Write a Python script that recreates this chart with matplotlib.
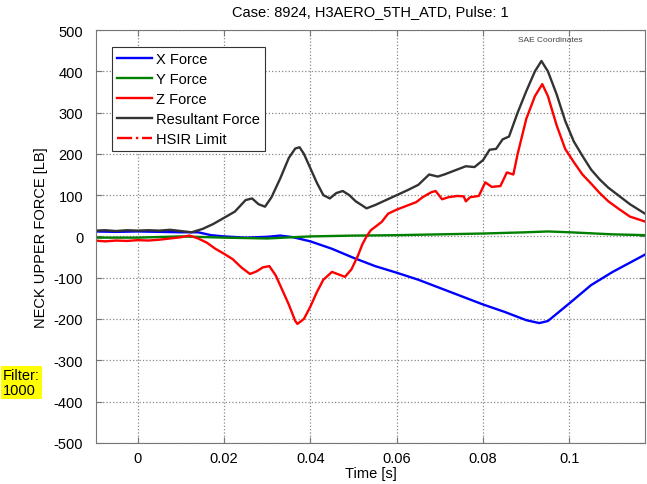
import matplotlib
matplotlib.use("Agg")
import matplotlib.pyplot as plt

plt.rcParams['font.family'] = ['Liberation Sans', 'DejaVu Sans']
plt.rcParams['axes.unicode_minus'] = False

# values
t_res = [-0.01, -0.0075, -0.005, -0.0025, 0.0, 0.0025, 0.005, 0.0075, 0.01, 0.0125,
         0.015, 0.0175, 0.02, 0.0225, 0.025, 0.0265, 0.028, 0.0295, 0.031, 0.033,
         0.035, 0.0365, 0.0375, 0.0385, 0.04, 0.0415, 0.043, 0.0445, 0.046, 0.0475,
         0.049, 0.0505, 0.052, 0.053, 0.055, 0.0575, 0.06, 0.0625, 0.065, 0.0675,
         0.0695, 0.071, 0.0735, 0.076, 0.078, 0.08, 0.0815, 0.083, 0.0845, 0.086,
         0.088, 0.09, 0.092, 0.0935, 0.095, 0.097, 0.099, 0.101, 0.103, 0.105,
         0.107, 0.109, 0.1115, 0.114, 0.1175]
f_res = [14, 15, 13, 15, 14, 15, 14, 16, 13, 10,
         18, 30, 45, 60, 88, 92, 78, 72, 95, 140,
         190, 213, 216, 200, 165, 130, 100, 92, 105, 110,
         100, 85, 75, 68, 76, 88, 100, 112, 125, 150,
         145, 150, 160, 170, 168, 185, 210, 212, 235, 242,
         300, 352, 400, 425, 400, 345, 280, 230, 195, 162,
         138, 118, 98, 78, 55]

t_z = [-0.01, -0.0075, -0.005, -0.0025, 0.0, 0.0025, 0.005, 0.0075, 0.01, 0.012,
       0.014, 0.016, 0.018, 0.02, 0.022, 0.024, 0.026, 0.0275, 0.029, 0.0305,
       0.032, 0.0335, 0.035, 0.0365, 0.037, 0.0385, 0.04, 0.0415, 0.043, 0.045,
       0.0465, 0.048, 0.0495, 0.051, 0.052, 0.053, 0.054, 0.055, 0.0565, 0.058,
       0.06, 0.0625, 0.0645, 0.066, 0.068, 0.069, 0.0705, 0.072, 0.074, 0.0755,
       0.076, 0.077, 0.079, 0.0805, 0.082, 0.084, 0.0855, 0.087, 0.088, 0.09,
       0.092, 0.0937, 0.095, 0.097, 0.099, 0.101, 0.103, 0.105, 0.107, 0.109,
       0.1115, 0.114, 0.1175]
f_z = [-10, -12, -10, -11, -9, -10, -8, -5, -2, 2,
       -5, -15, -30, -42, -55, -75, -91, -85, -75, -72,
       -95, -130, -165, -205, -212, -200, -170, -135, -105, -86,
       -92, -98, -80, -47, -20, 0, 15, 23, 35, 55,
       65, 75, 83, 95, 107, 110, 90, 95, 98, 97,
       85, 95, 98, 131, 120, 122, 155, 150, 200, 285,
       340, 369, 340, 270, 212, 180, 150, 128, 105, 85,
       66, 48, 36]

t_x = [-0.01, -0.005, 0.0, 0.005, 0.01, 0.014, 0.017, 0.02, 0.025, 0.03,
       0.033, 0.036, 0.04, 0.045, 0.05, 0.055, 0.06, 0.065, 0.07, 0.075,
       0.08, 0.085, 0.09, 0.093, 0.095, 0.1, 0.105, 0.11, 0.1175]
f_x = [12, 11, 12, 11, 10, 10, 3, 0, -3, -1,
       2, -2, -12, -30, -52, -72, -88, -105, -125, -145,
       -165, -183, -203, -210, -205, -162, -118, -86, -44]

t_y = [-0.01, 0.0, 0.01, 0.02, 0.03, 0.04, 0.05, 0.06, 0.07, 0.08,
       0.09, 0.095, 0.1, 0.11, 0.1175]
f_y = [-3, -3, 0, -3, -5, 0, 2, 3, 5, 7,
       10, 12, 10, 5, 3]

fig = plt.figure(figsize=(6.47, 4.85), dpi=100)
ax = fig.add_axes([0.148, 0.085, 0.849, 0.851])

ax.plot(t_x, f_x, color='#0000ff', lw=1.7, label='X Force')
ax.plot(t_y, f_y, color='#008000', lw=1.7, label='Y Force')
ax.plot(t_z, f_z, color='#ff0000', lw=1.7, label='Z Force')
ax.plot(t_res, f_res, color='#333333', lw=1.7, label='Resultant Force')
ax.plot([], [], color='#ff0000', ls='-.', lw=1.7, label='HSIR Limit')

ax.set_xlim(-0.0097, 0.1175)
ax.set_ylim(-500, 500)
ax.set_xticks([0, 0.02, 0.04, 0.06, 0.08, 0.1])
ax.set_xticklabels(['0', '0.02', '0.04', '0.06', '0.08', '0.1'])
ax.set_yticks(range(-500, 501, 100))
ax.tick_params(direction='in', top=True, right=True, labelsize=10.5, length=4,
               color='#777777')
ax.tick_params(axis='y', pad=9)
ax.tick_params(axis='x', pad=6)
for s in ax.spines.values():
    s.set_color('#777777')
ax.grid(True, ls=':', color='#888888', lw=0.9)

ax.set_xlabel('Time [s]', fontsize=10.5, labelpad=1)
ax.set_ylabel('NECK UPPER FORCE [LB]', fontsize=10.5, labelpad=4)
ax.set_title('Case: 8924, H3AERO_5TH_ATD, Pulse: 1', fontsize=10.5, pad=11)

leg = ax.legend(loc='upper left', bbox_to_anchor=(0.029, 0.96), borderaxespad=0,
                fontsize=10.5, fancybox=False, framealpha=1, edgecolor='#333333',
                handlelength=2.4, handletextpad=0.3, labelspacing=0.42, borderpad=0.35)
leg.get_frame().set_linewidth(0.8)

ax.text(0.827, 0.978, 'SAE Coordinates', transform=ax.transAxes, fontsize=6,
        color='#444444', ha='center', va='center')

fig.text(0.004, 0.21, 'Filter:\n1000', fontsize=10.5, ha='left', va='center',
         linespacing=1.1,
         bbox=dict(facecolor='#ffff00', edgecolor='none', pad=1.5))

fig.savefig('out.png', dpi=100)
